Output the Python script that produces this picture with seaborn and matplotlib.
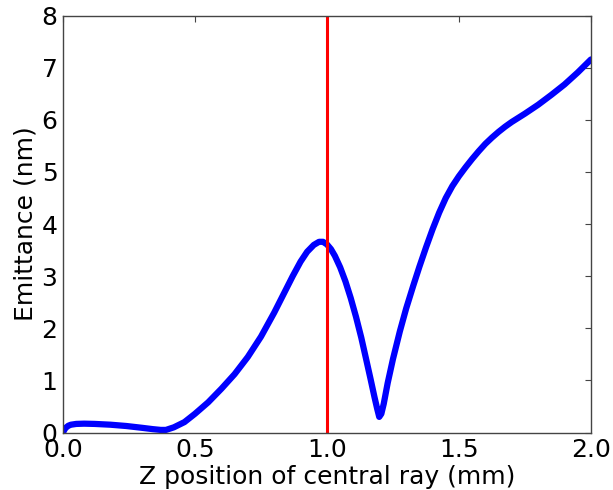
import matplotlib
matplotlib.use("Agg")
import matplotlib.pyplot as plt
import seaborn as sns
import pandas as pd

z_mm = [0.0, 0.005, 0.01, 0.02, 0.03, 0.05, 0.08, 0.12, 0.18, 0.24, 0.3, 0.34, 0.37,
        0.39, 0.42, 0.46, 0.5, 0.55, 0.6, 0.65, 0.7, 0.75, 0.8, 0.84, 0.87, 0.9,
        0.925, 0.95, 0.97, 0.985, 1.0, 1.015, 1.03, 1.05, 1.07, 1.09, 1.11, 1.13,
        1.15, 1.165, 1.18, 1.19, 1.198, 1.206, 1.215, 1.23, 1.25, 1.276, 1.3, 1.327,
        1.35, 1.375, 1.4, 1.425, 1.45, 1.475, 1.5, 1.525, 1.55, 1.575, 1.6, 1.625,
        1.65, 1.675, 1.7, 1.725, 1.75, 1.8, 1.85, 1.9, 1.95, 2.0]
emittance_nm = [0.0, 0.05, 0.09, 0.13, 0.15, 0.165, 0.17, 0.165, 0.15, 0.125, 0.09,
                0.065, 0.05, 0.05, 0.1, 0.2, 0.36, 0.58, 0.84, 1.12, 1.45, 1.84, 2.3,
                2.7, 3.0, 3.28, 3.47, 3.6, 3.66, 3.66, 3.61, 3.52, 3.39, 3.17, 2.9,
                2.58, 2.22, 1.82, 1.37, 1.03, 0.68, 0.46, 0.3, 0.36, 0.55, 0.95, 1.41,
                1.94, 2.38, 2.82, 3.18, 3.55, 3.9, 4.22, 4.5, 4.73, 4.92, 5.09, 5.25,
                5.4, 5.54, 5.66, 5.77, 5.87, 5.96, 6.04, 6.12, 6.29, 6.48, 6.68, 6.91,
                7.16]
marker_z = 1.0

x_ticks = [0.0, 0.5, 1.0, 1.5, 2.0]
y_ticks = [0, 1, 2, 3, 4, 5, 6, 7, 8]

df = pd.DataFrame({"z": z_mm, "e": emittance_nm})

sns.set_style("white")
plt.rcParams["font.family"] = ["DejaVu Sans"]
plt.rcParams["text.color"] = "black"
plt.rcParams["axes.labelcolor"] = "black"
plt.rcParams["xtick.color"] = "black"
plt.rcParams["ytick.color"] = "black"

fig = plt.figure(figsize=(6.13, 4.90), dpi=100)
ax = fig.add_axes([0.1028, 0.1173, 0.8612, 0.8507])

sns.lineplot(data=df, x="z", y="e", color="blue", linewidth=4.5, ax=ax,
             sort=False, estimator=None)
ax.axvline(marker_z, color="red", linewidth=2.2)

ax.set_xlim(0, 2.0)
ax.set_ylim(0, 8)
ax.set_xticks(x_ticks)
ax.set_xticklabels([f"{v:.1f}" for v in x_ticks])
ax.set_yticks(y_ticks)
ax.set_yticklabels([str(v) for v in y_ticks])
ax.set_xlabel("Z position of central ray (mm)", fontsize=18, labelpad=2, color="black")
ax.set_ylabel("Emittance (nm)", fontsize=18, labelpad=3, color="black")
ax.tick_params(axis="both", which="both", direction="in", length=4, width=0.8,
               top=True, right=True, labelsize=18, color="#444444",
               labelcolor="black", pad=4)
for s in ax.spines.values():
    s.set_color("#444444")
    s.set_linewidth(1.0)
    s.set_visible(True)

fig.savefig("out.png", dpi=100)
